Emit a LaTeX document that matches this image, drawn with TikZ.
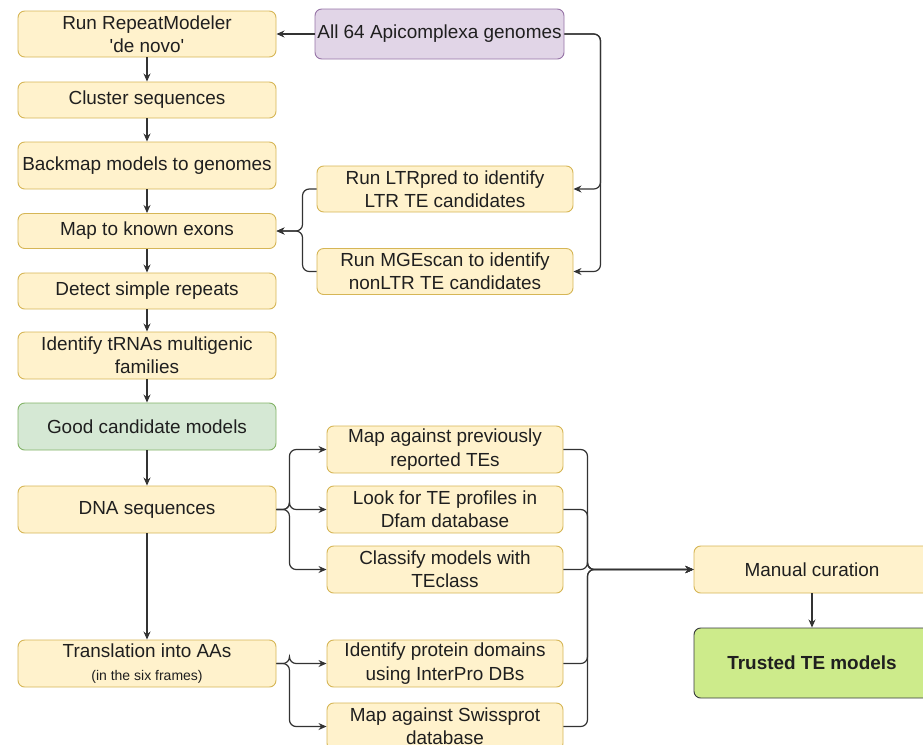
\documentclass[tikz,border=0pt]{standalone}
\usepackage{fontspec}
\setmainfont{Liberation Sans}
\usetikzlibrary{arrows.meta}

\definecolor{boxfill}{HTML}{FFF2CC}
\definecolor{boxline}{HTML}{D6B656}
\definecolor{purfill}{HTML}{E1D5E7}
\definecolor{purline}{HTML}{9673A6}
\definecolor{grnfill}{HTML}{D5E8D4}
\definecolor{grnline}{HTML}{82B366}
\definecolor{limefill}{HTML}{CDEB8B}
\definecolor{limeline}{HTML}{36393D}
\definecolor{wire}{HTML}{333333}

\begin{document}
\begin{tikzpicture}[x=0.75pt, y=-0.75pt, >={Stealth[length=6pt,width=5.2pt]},
  every task/.style={draw=boxline, fill=boxfill, rounded corners=5pt, line width=0.7pt,
    align=center, inner sep=0pt, text=black!88,
    font=\fontsize{14.2pt}{17.5pt}\selectfont},
  task 7/.style={draw=grnline, fill=grnfill},
  link/.style={draw=wire, line width=0.9pt, rounded corners=5pt}]

\useasboundingbox (0,0) rectangle (923,744);

% left column
\foreach \t/\h/\yy [count=\i] in {
    {Run RepeatModeler\\\textquotesingle de novo\textquotesingle}/34.5pt/34,
    {Cluster sequences}/27pt/100,
    {Backmap models to genomes}/35.25pt/165.5,
    {Map to known exons}/26.25pt/231,
    {Detect simple repeats}/27pt/291,
    {Identify tRNAs multigenic\\families}/35.25pt/355.5,
    {Good candidate models}/35.25pt/426.5,
    {DNA sequences}/35.25pt/509.5,
    {Translation into AAs\\{\fontsize{10.5pt}{12pt}\selectfont(in the six frames)}}/35.25pt/663.5}
  \node [every task/.try, task \i/.try, minimum width=193.5pt, minimum height=\h]
    (left-\i) at (147,\yy) {\t};

\node [every task/.try, draw=purline, fill=purfill, minimum width=186.75pt,
  minimum height=37.5pt] (genomes) at (439.5,34) {All 64 Apicomplexa genomes};

\foreach \n/\t/\yy in {ltr/{Run LTRpred to identify\\LTR TE candidates}/189,
    mge/{Run MGEscan to identify\\nonLTR TE candidates}/271.5}
  \node [every task/.try, minimum width=192pt, minimum height=34.5pt]
    (\n) at (445,\yy) {\t};

% right column
\foreach \n/\t/\yy in {prev/{Map against previously\\reported TEs}/449.5,
    dfam/{Look for TE profiles in\\Dfam database}/509.5,
    tecl/{Classify models with\\TEclass}/569.5,
    ipro/{Identify protein domains\\using InterPro DBs}/663.5,
    swiss/{Map against Swissprot\\database}/726.5}
  \node [every task/.try, minimum width=177pt, minimum height=35.25pt]
    (\n) at (445,\yy) {\t};

\node [every task/.try, minimum width=177pt, minimum height=35.25pt]
  (manual) at (812,569.5) {Manual curation};
\node [every task/.try, draw=limeline, fill=limefill, minimum width=177pt,
  minimum height=52.5pt, font=\fontsize{14.2pt}{17.5pt}\selectfont\bfseries]
  (trusted) at (812,663) {Trusted TE models};

\foreach \i [count=\j from 2] in {1,...,8}
  \draw [link, ->] (left-\i.south) -- (left-\j.north);

\draw [link, ->] (genomes.west) -- (left-1.east);
\foreach \n in {ltr,mge}
  \draw [link, ->] (genomes.east) -- ++(36,0) |- (\n.east);
\foreach \n in {ltr,mge}
  \draw [link, ->] (\n.west) -- ++(-14,0) |- (left-4.east);

\foreach \n in {prev,dfam,tecl}
  \draw [link, ->] (left-8.east) -- ++(13,0) |- (\n.west);
\foreach \n in {ipro,swiss}
  \draw [link, ->] (left-9.east) -- ++(13,0) |- (\n.west);

\foreach \n in {prev,dfam,tecl,ipro,swiss}
  \draw [link, ->] (\n.east) -- ++(24,0) |- (manual.west);

\draw [link, ->] (manual) -- (trusted);

\end{tikzpicture}
\end{document}
